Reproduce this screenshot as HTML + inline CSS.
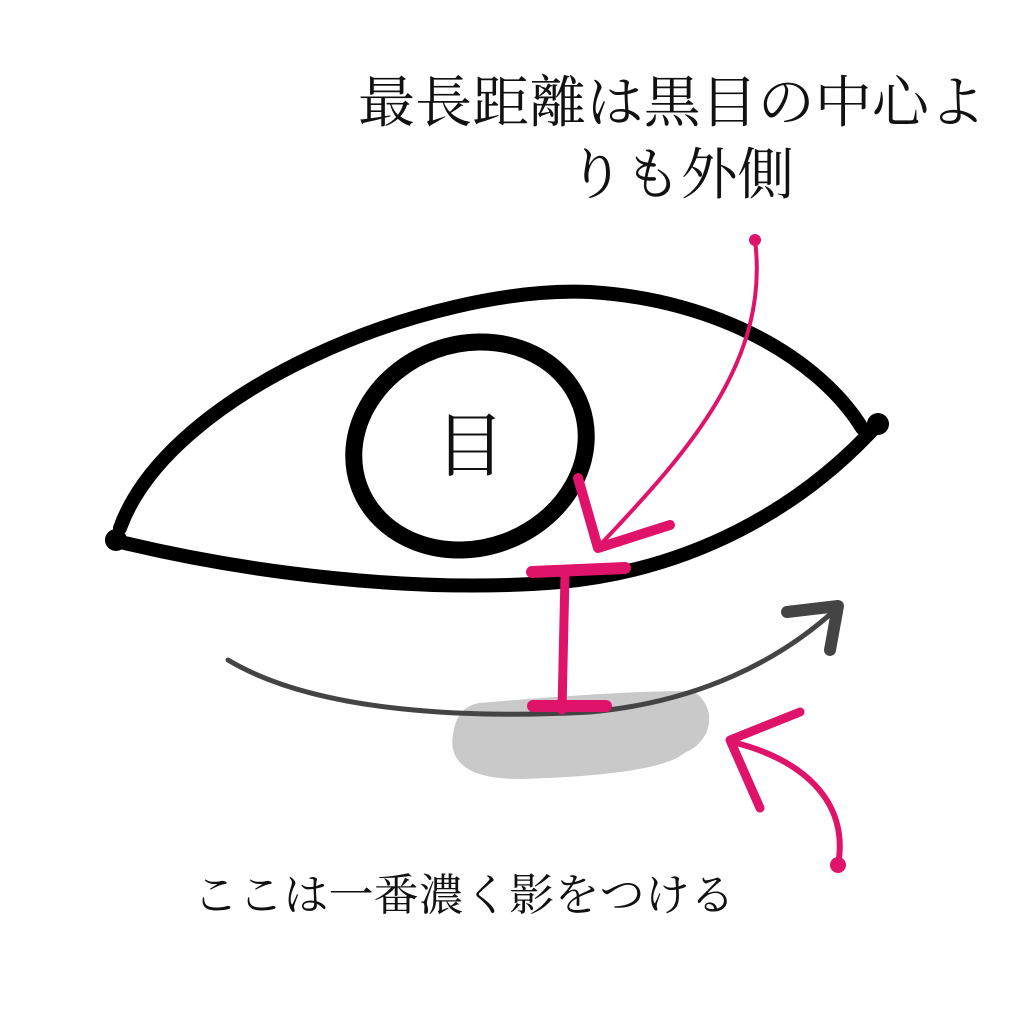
<!DOCTYPE html>
<html><head><meta charset="utf-8"><style>
html,body{margin:0;padding:0;background:#fff}
svg{display:block}
text{font-family:"Liberation Serif","Noto Serif CJK SC",serif;fill:#111}
</style></head><body>
<svg width="1024" height="1024" viewBox="0 0 1024 1024" xmlns="http://www.w3.org/2000/svg">
<rect width="1024" height="1024" fill="#fff"/>
<text x="358" y="122" font-size="56" textLength="628" lengthAdjust="spacingAndGlyphs">最長距離は黒目の中心よ</text>
<text x="568" y="194" font-size="56" textLength="226" lengthAdjust="spacingAndGlyphs">りも外側</text>
<text x="193" y="910" font-size="44" textLength="542" lengthAdjust="spacingAndGlyphs">ここは一番濃く影をつける</text>
<!-- gray blob -->
<path d="M480,712 C560,705 640,700 690,700 C705,710 705,735 680,745 C665,760 600,768 520,770 C470,770 458,755 462,735 C464,720 470,714 480,712 Z" fill="#c9c9c9" stroke="#c9c9c9" stroke-width="18" stroke-linejoin="round"/>
<!-- eye -->
<g fill="none" stroke="#000" stroke-width="14" stroke-linecap="round">
<path d="M120,528 C170,390 430,285 590,292 C720,300 820,360 862,428"/>
<path d="M112,540 C250,574 420,594 560,582 C690,570 800,510 878,424"/>
</g>
<circle cx="878" cy="424" r="11" fill="#000"/>
<circle cx="116" cy="540" r="11" fill="#000"/>
<ellipse cx="470" cy="446" rx="118" ry="102" transform="rotate(-20 470 446)" fill="none" stroke="#000" stroke-width="17"/>
<text x="470" y="470" font-size="70" text-anchor="middle">目</text>
<!-- lower gray curve -->
<g fill="none" stroke="#444" stroke-linecap="round" stroke-linejoin="round">
<path d="M228,660 C320,715 480,718 590,712 C700,702 780,660 835,610" stroke-width="5"/>
<path d="M787,612 L838,606 L830,650" stroke-width="12"/>
</g>
<!-- pink -->
<g fill="none" stroke="#e0136a" stroke-linecap="round" stroke-linejoin="round">
<path d="M755,240 C770,360 690,450 600,545" stroke-width="4"/>
<path d="M578,478 L598,548 L670,525" stroke-width="10"/>
<path d="M532,572 L625,568" stroke-width="12"/>
<path d="M565,575 L562,710" stroke-width="9"/>
<path d="M533,706 L606,706" stroke-width="12"/>
<path d="M838,865 C850,800 800,758 732,742" stroke-width="6"/>
<path d="M800,712 L730,740 L760,808" stroke-width="9"/>
</g>
<circle cx="755" cy="240" r="6" fill="#e0136a"/>
<circle cx="838" cy="865" r="8" fill="#e0136a"/>
</svg>
</body></html>
